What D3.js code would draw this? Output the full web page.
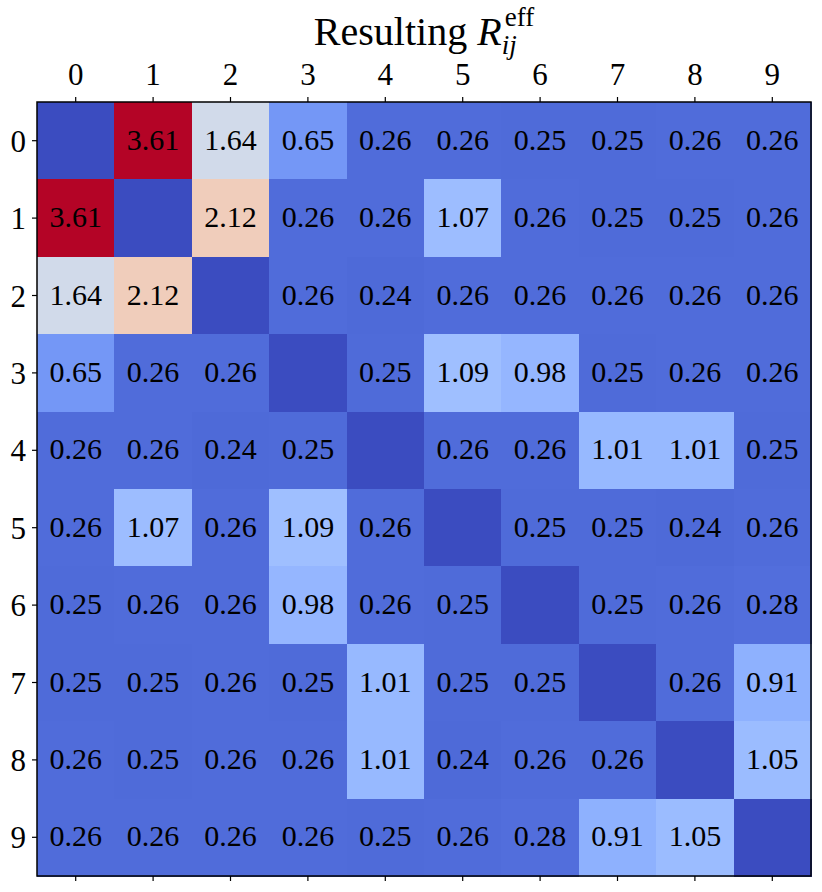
<!DOCTYPE html>
<html><head><meta charset="utf-8">
<script src="https://cdn.jsdelivr.net/npm/d3@7"></script>
<style>body{margin:0;background:#fff}</style>
</head><body>
<svg id="c" width="822" height="892"></svg>
<script>
const categories = ["0","1","2","3","4","5","6","7","8","9"];
const row0 = [0, 3.61, 1.64, 0.65, 0.26, 0.26, 0.25, 0.25, 0.26, 0.26];
const row1 = [3.61, 0, 2.12, 0.26, 0.26, 1.07, 0.26, 0.25, 0.25, 0.26];
const row2 = [1.64, 2.12, 0, 0.26, 0.24, 0.26, 0.26, 0.26, 0.26, 0.26];
const row3 = [0.65, 0.26, 0.26, 0, 0.25, 1.09, 0.98, 0.25, 0.26, 0.26];
const row4 = [0.26, 0.26, 0.24, 0.25, 0, 0.26, 0.26, 1.01, 1.01, 0.25];
const row5 = [0.26, 1.07, 0.26, 1.09, 0.26, 0, 0.25, 0.25, 0.24, 0.26];
const row6 = [0.25, 0.26, 0.26, 0.98, 0.26, 0.25, 0, 0.25, 0.26, 0.28];
const row7 = [0.25, 0.25, 0.26, 0.25, 1.01, 0.25, 0.25, 0, 0.26, 0.91];
const row8 = [0.26, 0.25, 0.26, 0.26, 1.01, 0.24, 0.26, 0.26, 0, 1.05];
const row9 = [0.26, 0.26, 0.26, 0.26, 0.25, 0.26, 0.28, 0.91, 1.05, 0];
const rows = [row0,row1,row2,row3,row4,row5,row6,row7,row8,row9];

// matplotlib "coolwarm" colormap stops
const coolwarm = [[59,76,192],[68,90,204],[77,104,215],[87,117,225],[98,130,234],[108,142,241],[119,154,247],[130,165,251],[141,176,254],[152,185,255],[163,194,255],[174,201,253],[184,208,249],[194,213,244],[204,217,238],[213,219,230],[221,221,221],[229,216,209],[236,211,197],[241,204,185],[245,196,173],[247,187,160],[247,177,148],[247,166,135],[244,154,123],[241,141,111],[236,127,99],[229,112,88],[222,96,77],[213,80,66],[203,62,56],[192,40,47],[180,4,38]];
const cmapInterp = d3.piecewise(d3.interpolateRgb, coolwarm.map(c=>d3.rgb(c[0],c[1],c[2])));

const vmax = d3.max(rows.flat());
const color = v => cmapInterp(Math.max(0, Math.min(1, v / vmax)));

const svg = d3.select("#c");
const L = 37, T = 102, W = 774, H = 774;
const x = d3.scaleBand().domain(categories).range([L, L+W]);
const y = d3.scaleBand().domain(categories).range([T, T+H]);
const font = "'Liberation Serif', 'DejaVu Serif', serif";

const cells = [];
rows.forEach((r,i)=>r.forEach((v,j)=>cells.push({i,j,v})));

svg.append("g").selectAll("rect").data(cells).join("rect")
  .attr("x", d=>x(categories[d.j])).attr("y", d=>y(categories[d.i]))
  .attr("width", x.bandwidth()+0.5).attr("height", y.bandwidth()+0.5)
  .attr("fill", d=>color(d.v)).attr("shape-rendering","crispEdges");

svg.append("g").selectAll("text").data(cells.filter(d=>d.i!==d.j)).join("text")
  .attr("x", d=>x(categories[d.j])+x.bandwidth()/2)
  .attr("y", d=>y(categories[d.i])+y.bandwidth()/2+9)
  .attr("text-anchor","middle")
  .style("font-family", font).style("font-size","30px").attr("fill","#000")
  .text(d=>d.v.toFixed(2));

// axes
const axTop = svg.append("g").attr("transform",`translate(0,${T})`)
  .call(d3.axisTop(x).tickSize(5).tickPadding(12));
const axBottom = svg.append("g").attr("transform",`translate(0,${T+H})`)
  .call(d3.axisBottom(x).tickSize(5).tickFormat(""));
const axLeft = svg.append("g").attr("transform",`translate(${L},0)`)
  .call(d3.axisLeft(y).tickSize(5).tickPadding(6));
[axTop,axBottom,axLeft].forEach(g=>{
  g.select(".domain").remove();
  g.selectAll("line").attr("stroke","#000").attr("stroke-width",1.2);
  g.selectAll("text").style("font-family",font).style("font-size","31px").attr("fill","#000");
});
axLeft.selectAll("text").attr("dy","0.36em");

svg.append("rect").attr("x",L).attr("y",T).attr("width",W).attr("height",H)
  .attr("fill","none").attr("stroke","#000").attr("stroke-width",1.5);

// title
const tg = svg.append("g");
const main = tg.append("text").attr("y",45).style("font-family",font).style("font-size","40px").attr("fill","#000");
main.append("tspan").text("Resulting ");
main.append("tspan").style("font-style","italic").text("R");
const mw = main.node().getComputedTextLength();
const sup = tg.append("text").attr("x", mw+3).attr("y",26).style("font-family",font).style("font-size","27px").text("eff");
const sub = tg.append("text").attr("x", mw).attr("y",54).style("font-family",font).style("font-size","27px").style("font-style","italic").text("ij");
const tw = mw + 3 + Math.max(sup.node().getComputedTextLength(), sub.node().getComputedTextLength());
tg.attr("transform",`translate(${L+W/2 - tw/2},0)`);
</script>
</body></html>
